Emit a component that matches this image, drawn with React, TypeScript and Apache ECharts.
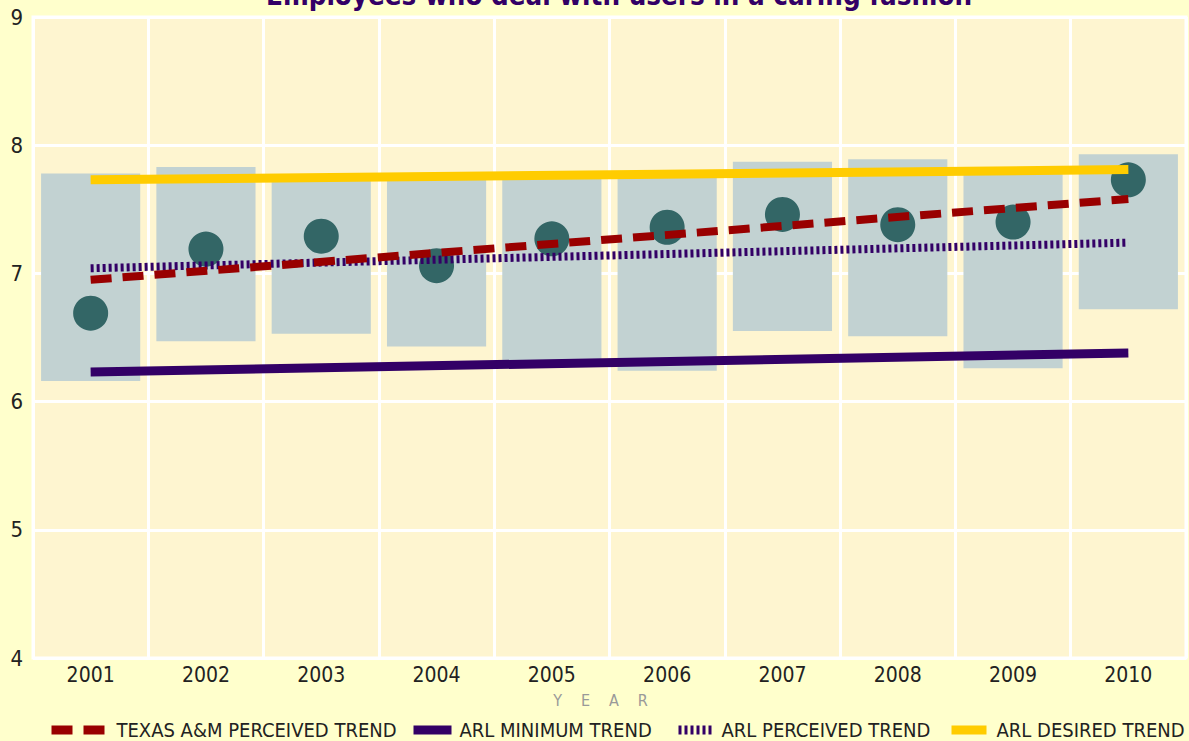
import React, { useEffect, useRef } from "react";
import * as echarts from "echarts";

const years = ["2001", "2002", "2003", "2004", "2005", "2006", "2007", "2008", "2009", "2010"];
const rangeLow = [6.16, 6.47, 6.53, 6.43, 6.32, 6.24, 6.55, 6.51, 6.26, 6.72];
const rangeHigh = [7.78, 7.83, 7.74, 7.74, 7.75, 7.76, 7.87, 7.89, 7.79, 7.93];
const perceivedMean = [6.69, 7.19, 7.29, 7.06, 7.27, 7.36, 7.46, 7.38, 7.4, 7.73];

const trendYears = ["2001", "2010"];
const texasTrend = [6.95, 7.58];
const arlMinTrend = [6.23, 6.38];
const arlPerceivedTrend = [7.04, 7.24];
const arlDesiredTrend = [7.73, 7.81];

const yTicks = [4, 5, 6, 7, 8, 9];

const legendNames = ["TEXAS A&M PERCEIVED TREND", "ARL MINIMUM TREND", "ARL PERCEIVED TREND", "ARL DESIRED TREND"];

const FONT = "'DejaVu Sans Condensed', 'Liberation Sans Narrow', 'Open Sans', sans-serif";

const pair = (vals: number[]) => trendYears.map((y, i) => [y, vals[i]]);

const legendLayout = [
  { left: 47, itemWidth: 54, pad: 6 },
  { left: 409, itemWidth: 38, pad: 3 },
  { left: 674, itemWidth: 34, pad: 4 },
  { left: 947, itemWidth: 35, pad: 5 },
];

export default function App() {
  const ref = useRef<HTMLDivElement>(null);
  useEffect(() => {
    document.body.style.margin = "0";
    document.body.style.background = "#FFFFCC";
    const chart = echarts.init(ref.current!, undefined, { renderer: "svg" });
    chart.setOption({
      animation: false,
      backgroundColor: "#FFFFCC",
      title: {
        text: "Employees who deal with users in a caring fashion",
        left: 266,
        top: -19,
        padding: 0,
        z: 10,
        textStyle: { fontFamily: FONT, fontSize: 27.5, fontWeight: "bold", color: "#330066" },
      },
      grid: {
        left: 33,
        right: 3,
        top: 17,
        bottom: 83,
        show: true,
        backgroundColor: "#FEF5D0",
        borderColor: "#FFFFFF",
        borderWidth: 3,
      },
      legend: legendNames.map((name, i) => ({
        left: legendLayout[i].left,
        top: 720,
        padding: 0,
        itemWidth: legendLayout[i].itemWidth,
        itemHeight: 10,
        data: [name],
        itemStyle: { opacity: 0 },
        lineStyle: { width: 9 },
        textStyle: { fontFamily: FONT, fontSize: 20, color: "#222222", padding: [0, 0, 0, legendLayout[i].pad] },
      })),
      xAxis: {
        type: "category",
        data: years,
        boundaryGap: true,
        name: "Y{p| }E{p| }A{p| }R",
        nameLocation: "middle",
        nameGap: 34,
        nameTextStyle: {
          fontFamily: FONT,
          fontSize: 16,
          color: "#999999",
          padding: [0, 18, 0, 0],
          rich: { p: { width: 19, fontSize: 16 } },
        },
        axisLine: { show: false },
        axisTick: { show: false },
        axisLabel: { fontFamily: FONT, fontSize: 21, color: "#222222", margin: 6 },
        splitLine: { show: true, interval: 0, lineStyle: { color: "#FFFFFF", width: 3 } },
      },
      yAxis: {
        type: "value",
        min: yTicks[0],
        max: yTicks[yTicks.length - 1],
        interval: 1,
        axisLine: { show: false },
        axisTick: { show: false },
        axisLabel: { fontFamily: FONT, fontSize: 22, color: "#222222", margin: 10 },
        splitLine: { show: true, lineStyle: { color: "#FFFFFF", width: 3 } },
      },
      series: [
        {
          name: "base",
          type: "bar",
          stack: "range",
          data: rangeLow,
          barWidth: "86%",
          itemStyle: { color: "transparent" },
          silent: true,
        },
        {
          name: "range",
          type: "bar",
          stack: "range",
          data: rangeHigh.map((h, i) => +(h - rangeLow[i]).toFixed(2)),
          barWidth: "86%",
          itemStyle: { color: "#C2D2D2" },
        },
        {
          name: "Texas A&M perceived",
          type: "scatter",
          data: perceivedMean,
          symbolSize: 35,
          itemStyle: { color: "#336666", opacity: 1 },
        },
        {
          name: legendNames[3],
          type: "line",
          data: pair(arlDesiredTrend),
          symbol: "none",
          lineStyle: { color: "#FFCC00", width: 9, type: "solid" },
          itemStyle: { color: "#FFCC00" },
        },
        {
          name: legendNames[1],
          type: "line",
          data: pair(arlMinTrend),
          symbol: "none",
          lineStyle: { color: "#330066", width: 9, type: "solid" },
          itemStyle: { color: "#330066" },
        },
        {
          name: legendNames[2],
          type: "line",
          data: pair(arlPerceivedTrend),
          symbol: "none",
          lineStyle: { color: "#330066", width: 8, type: [3, 3] },
          itemStyle: { color: "#330066" },
        },
        {
          name: legendNames[0],
          type: "line",
          data: pair(texasTrend),
          symbol: "none",
          lineStyle: { color: "#990000", width: 8, type: [21, 11] },
          itemStyle: { color: "#990000" },
        },
      ],
    });
    return () => chart.dispose();
  }, []);
  return <div ref={ref} style={{ width: 1189, height: 741 }} />;
}
